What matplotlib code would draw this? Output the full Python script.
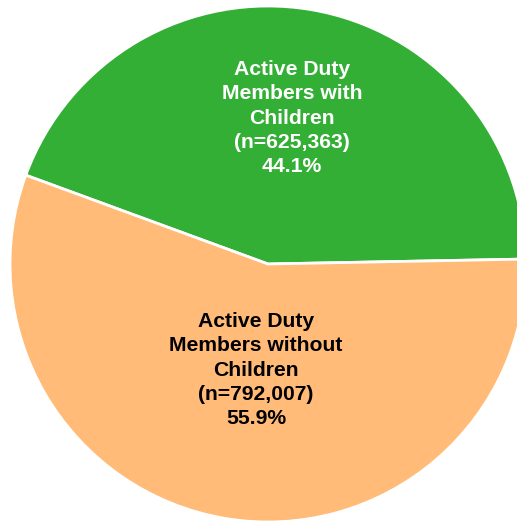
import matplotlib
matplotlib.use("Agg")
import matplotlib.pyplot as plt

categories = ["Active Duty\nMembers with\nChildren", "Active Duty\nMembers without\nChildren"]
counts = [625363, 792007]
percents = [44.1, 55.9]
colors = ["#34AF36", "#FFBB77"]
text_colors = ["white", "black"]

W, H = 517, 521
fig = plt.figure(figsize=(W / 100, H / 100), dpi=100)
ax = fig.add_axes([0, 0, 1, 1])

cx, cy, r = 268, H - 264, 258
ax.pie(percents, colors=colors, startangle=1.1, counterclock=True,
       center=(cx, cy), radius=r, frame=True,
       wedgeprops=dict(edgecolor="white", linewidth=2))
ax.set_xlim(0, W)
ax.set_ylim(0, H)
ax.set_aspect("equal")
ax.axis("off")

label_pos = [(292, H - 118), (256, H - 370)]
for cat, n, p, (x, y), tc in zip(categories, counts, percents, label_pos, text_colors):
    ax.text(x, y, f"{cat}\n(n={n:,})\n{p:.1f}%", ha="center", va="center",
            color=tc, fontsize=15.2, fontweight="bold", family="Liberation Sans",
            linespacing=1.36)

fig.savefig("out.png", dpi=100)
